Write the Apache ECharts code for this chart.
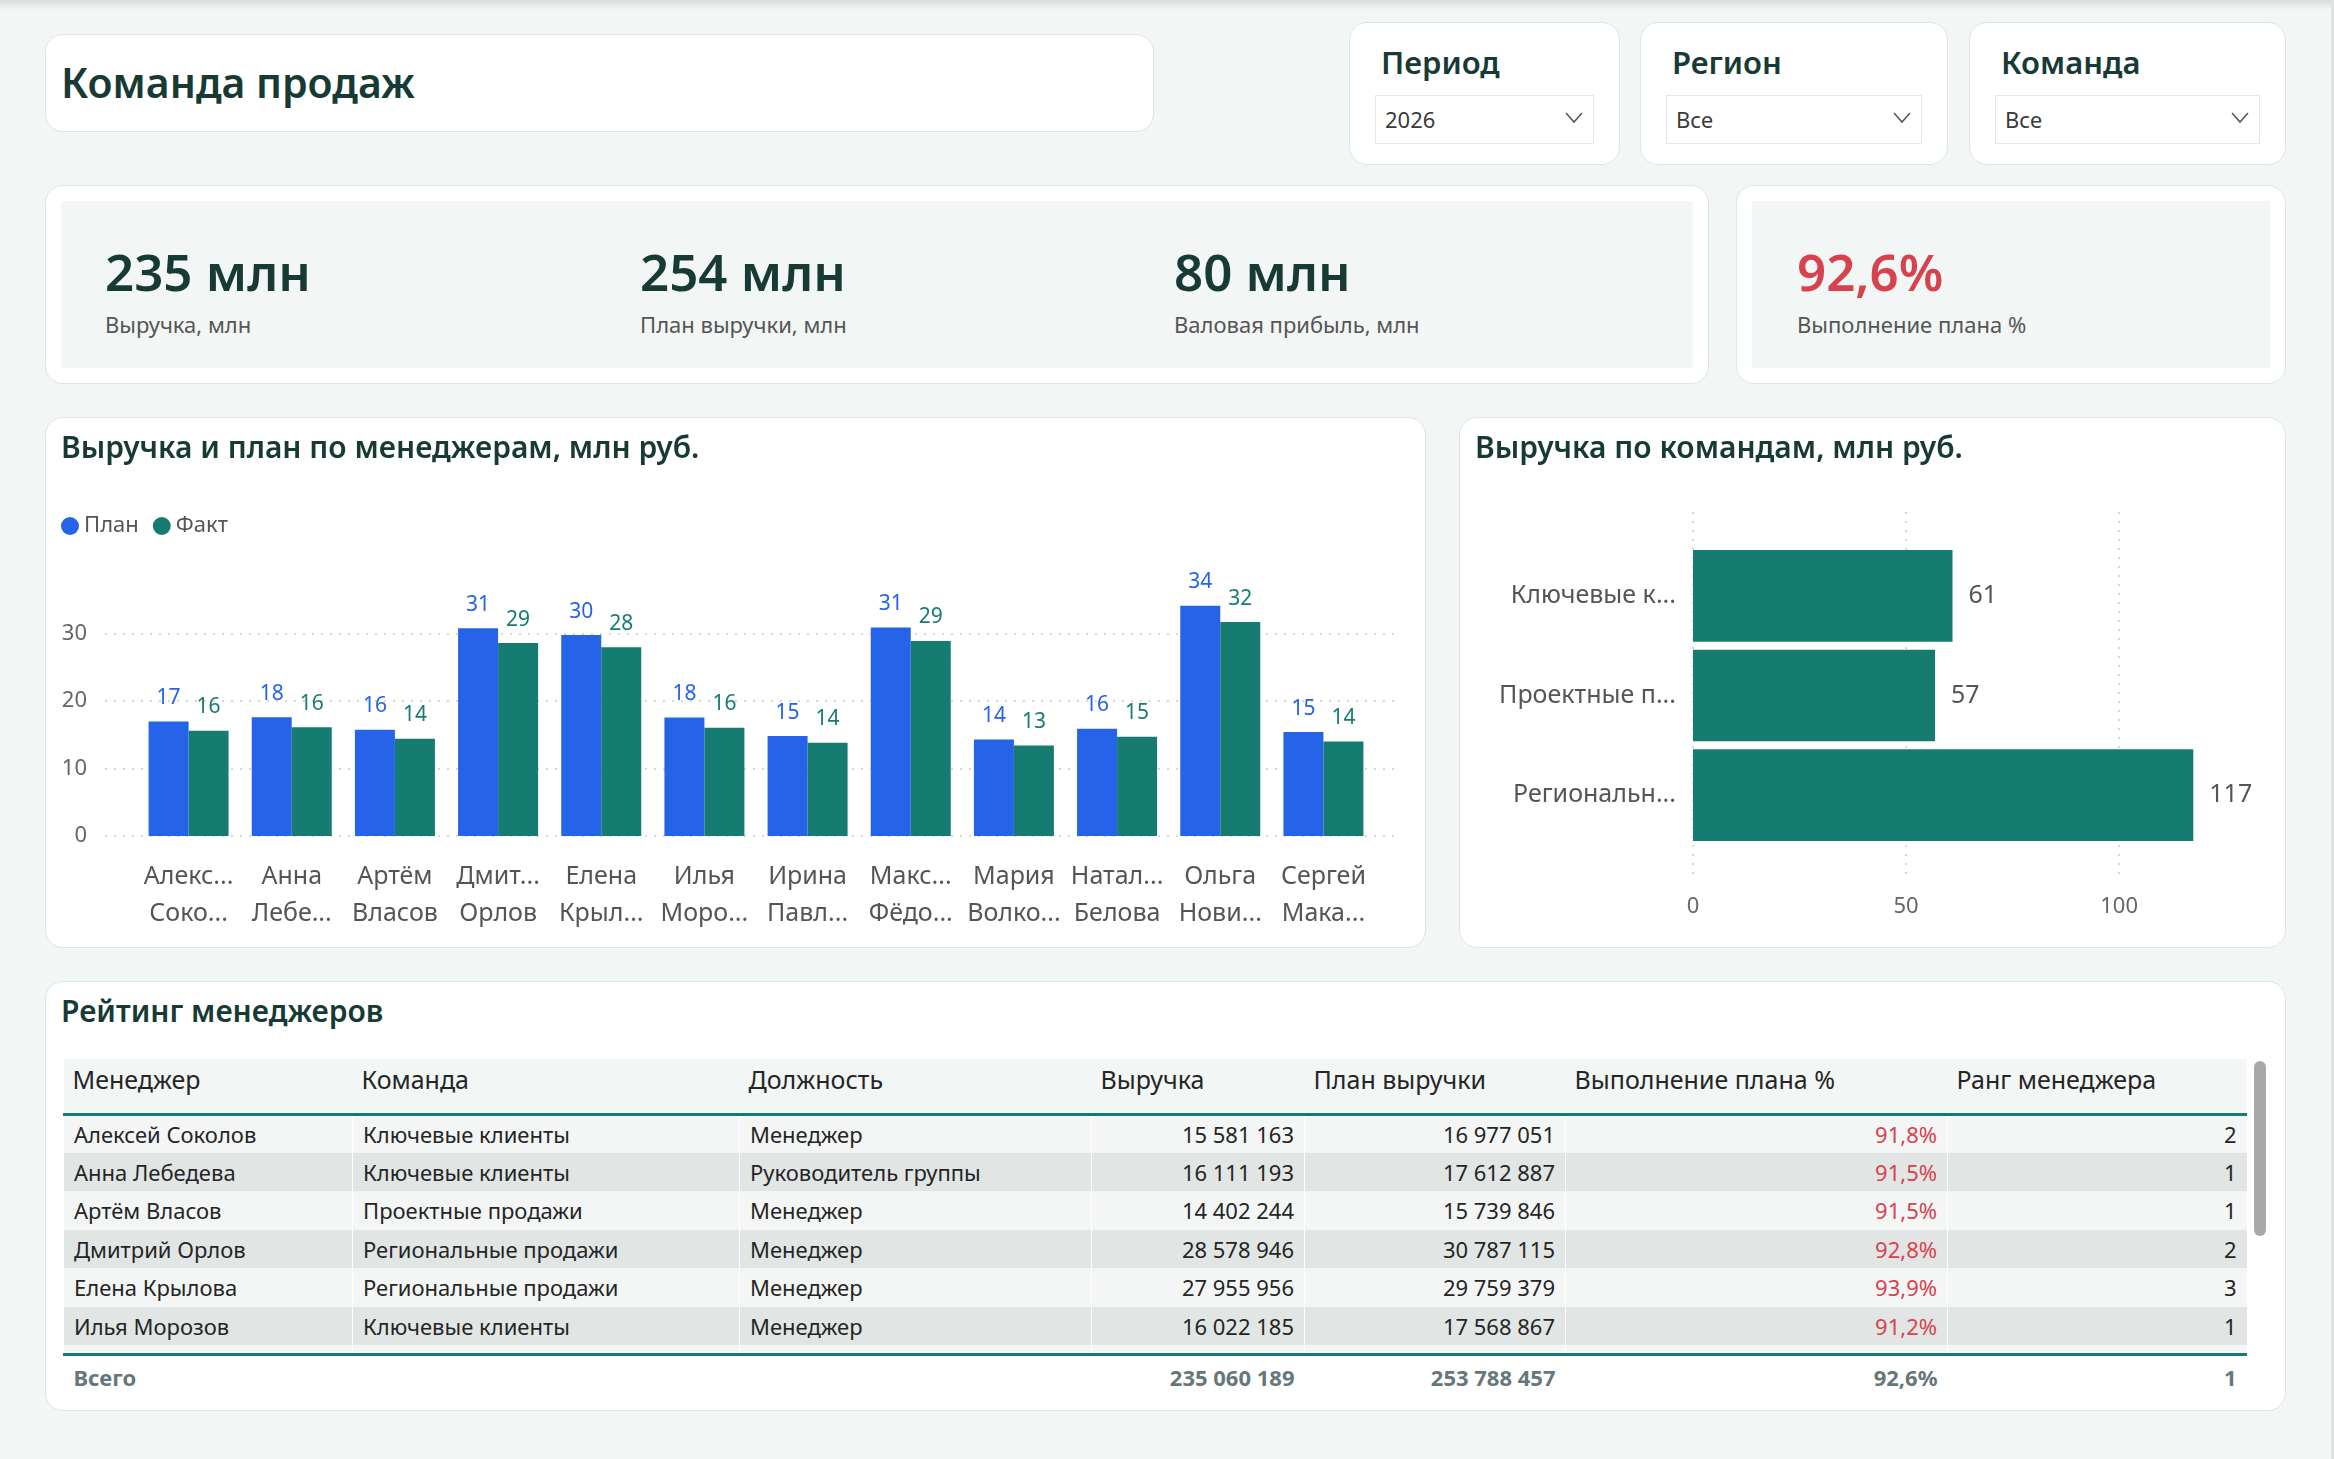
<!DOCTYPE html>
<html>
<head>
<meta charset="utf-8">
<title>Команда продаж</title>
<script src="https://cdn.jsdelivr.net/npm/echarts@6/dist/echarts.min.js"></script>
<style>
    html, body { margin: 0; padding: 0; }
    body {
        width: 2334px; height: 1459px; position: relative; overflow: hidden;
        background: #f2f6f5; font-family: 'Noto Sans', sans-serif; color: #173a35;
    }
    .topshade { position: absolute; left: 0; top: 0; width: 100%; height: 10px;
        background: linear-gradient(#d8dddc, rgba(242, 246, 245, 0)); }
    .rightedge { position: absolute; right: 0; top: 0; width: 3px; height: 100%; background: #dfe4e3; }
    .card { position: absolute; background: #fff; border: 1px solid #dce6e4; border-radius: 18px; box-sizing: border-box; }
    .page-title { position: absolute; left: 15px; top: 0; line-height: 94px; font-size: 41px; font-weight: 600; }
    .slicer-title { position: absolute; left: 31px; top: 17px; font-size: 31px; font-weight: 600; line-height: 44px; }
    .dropdown { position: absolute; left: 25px; right: 25px; top: 72px; height: 49px; border: 1px solid #e4e7e7;
        box-sizing: border-box; font-size: 22px; color: #3a3a3a; line-height: 47px; padding-left: 9px; }
    .dropdown svg { position: absolute; right: 10px; top: 16px; }
    .kpi-inner { position: absolute; left: 15px; top: 15px; right: 15px; bottom: 15px; background: #f2f6f5; }
    .kpi { position: absolute; top: 0; }
    .kpi-value { position: absolute; left: 0; top: 35px; font-size: 51px; font-weight: 600; line-height: 70px; white-space: nowrap; color: #173a35; }
    .kpi-label { position: absolute; left: 0; top: 108px; font-size: 22px; line-height: 30px; white-space: nowrap; color: #555; }
    .chart { position: absolute; left: 0; top: 0; width: 100%; height: 100%; }
    .tbl-title { position: absolute; left: 15px; top: 9px; font-size: 30px; font-weight: 600; line-height: 40px; }
    table { position: absolute; left: 17px; top: 77px; border-collapse: collapse; table-layout: fixed; width: 2183px; }
    th { height: 55px; background: #f2f6f5; font-size: 25px; font-weight: 400; color: #252525; text-align: left;
        padding: 0 0 13px 9px; border-bottom: 3px solid #177a70; white-space: nowrap; overflow: hidden; box-sizing: border-box; }
    td { height: 38.5px; padding: 0 10px; font-size: 22px; color: #252525; white-space: nowrap; overflow: hidden;
        border-left: 1px solid rgba(255, 255, 255, 0.55); box-sizing: border-box; }
    tr.odd td { background: #f3f6f5; }
    tr.even td { background: #e1e6e5; }
    tr.pad td { height: 9px; background: #f3f6f5; }
    tr.total td { border-top: 3px solid #177a70; height: 44px; background: #fff; font-weight: 700; color: #66777a; border-left: none; }
    td.num { text-align: right; }
    td.pct { text-align: right; color: #d8424d; }
    .scroll { position: absolute; left: 2208px; top: 79px; width: 12px; height: 175px; border-radius: 6px; background: #a9a9a9; }
</style>
</head>
<body>
<div class="topshade"></div>
<div class="rightedge"></div>

<div class="card" style="left:45px;top:34px;width:1109px;height:98px;">
    <div class="page-title">Команда продаж</div>
</div>

<div id="slicers"></div>

<div class="card" style="left:45px;top:185px;width:1664px;height:199px;">
    <div class="kpi-inner" id="kpi-main"></div>
</div>
<div class="card" style="left:1736px;top:185px;width:550px;height:199px;">
    <div class="kpi-inner" id="kpi-side"></div>
</div>

<div class="card" style="left:45px;top:417px;width:1381px;height:531px;">
    <div class="chart" id="echarts-managers"></div>
</div>
<div class="card" style="left:1459px;top:417px;width:827px;height:531px;">
    <div class="chart" id="echarts-teams"></div>
</div>

<div class="card" style="left:45px;top:981px;width:2241px;height:430px;">
    <div class="tbl-title">Рейтинг менеджеров</div>
    <table id="rating"></table>
    <div class="scroll"></div>
</div>

<script>
    // фильтры
    var slicerTitles = ['Период', 'Регион', 'Команда'];
    var slicerValues = ['2026', 'Все', 'Все'];

    // карточки KPI
    var kpiValues = ['235 млн', '254 млн', '80 млн'];
    var kpiLabels = ['Выручка, млн', 'План выручки, млн', 'Валовая прибыль, млн'];
    var planPctValue = '92,6%';
    var planPctLabel = 'Выполнение плана %';

    // выручка и план по менеджерам, млн руб.
    var managerNames = ['Алексей Соколов', 'Анна Лебедева', 'Артём Власов', 'Дмитрий Орлов', 'Елена Крылова', 'Илья Морозов',
        'Ирина Павлова', 'Максим Фёдоров', 'Мария Волкова', 'Наталья Белова', 'Ольга Новикова', 'Сергей Макаров'];
    var managerTickLabels = ['Алекс...\nСоко...', 'Анна\nЛебе...', 'Артём\nВласов', 'Дмит...\nОрлов', 'Елена\nКрыл...', 'Илья\nМоро...',
        'Ирина\nПавл...', 'Макс...\nФёдо...', 'Мария\nВолко...', 'Натал...\nБелова', 'Ольга\nНови...', 'Сергей\nМака...'];
    var planValues = [16.98, 17.61, 15.74, 30.79, 29.76, 17.57, 14.8, 30.9, 14.3, 15.9, 34.1, 15.4];
    var factValues = [15.58, 16.11, 14.40, 28.58, 27.96, 16.02, 13.8, 28.9, 13.4, 14.7, 31.7, 14.0];

    // выручка по командам, млн руб.
    var teamNames = ['Ключевые клиенты', 'Проектные продажи', 'Региональные продажи'];
    var teamTickLabels = ['Ключевые к...', 'Проектные п...', 'Региональн...'];
    var teamValues = [60.9, 56.8, 117.4];

    // рейтинг менеджеров
    var tblManagers = ['Алексей Соколов', 'Анна Лебедева', 'Артём Власов', 'Дмитрий Орлов', 'Елена Крылова', 'Илья Морозов'];
    var tblTeams = ['Ключевые клиенты', 'Ключевые клиенты', 'Проектные продажи', 'Региональные продажи', 'Региональные продажи', 'Ключевые клиенты'];
    var tblRoles = ['Менеджер', 'Руководитель группы', 'Менеджер', 'Менеджер', 'Менеджер', 'Менеджер'];
    var tblRevenue = [15581163, 16111193, 14402244, 28578946, 27955956, 16022185];
    var tblPlan = [16977051, 17612887, 15739846, 30787115, 29759379, 17568867];
    var tblPct = ['91,8%', '91,5%', '91,5%', '92,8%', '93,9%', '91,2%'];
    var tblRank = [2, 1, 1, 2, 3, 1];
    var tblTotal = ['Всего', '', '', 235060189, 253788457, '92,6%', 1];
    var tblHeaders = ['Менеджер', 'Команда', 'Должность', 'Выручка', 'План выручки', 'Выполнение плана %', 'Ранг менеджера'];
    var tblWidths = [289, 387, 352, 213, 261, 382, 299];

    var FONT = 'Noto Sans';
    var BLUE = '#2563e8';
    var TEAL = '#167c71';
    var GRID_LINE = { color: '#c9cccc', type: [2, 7], width: 1.5 };

    function fmt(n) {
        return String(n).replace(/\B(?=(\d{3})+(?!\d))/g, ' ');
    }

    /**
     * фильтры
     */
    var slicerBoxes = [[1349, 271], [1640, 308], [1969, 317]];
    var slicerHtml = '';
    for (var i = 0; i < slicerTitles.length; i++) {
        slicerHtml += '<div class="card" style="left:' + slicerBoxes[i][0] + 'px;top:22px;width:' + slicerBoxes[i][1] + 'px;height:143px;">' +
            '<div class="slicer-title">' + slicerTitles[i] + '</div>' +
            '<div class="dropdown">' + slicerValues[i] +
            '<svg width="18" height="12"><polyline points="1,1 9,10 17,1" fill="none" stroke="#555" stroke-width="1.5"/></svg></div></div>';
    }
    document.getElementById('slicers').innerHTML = slicerHtml;

    /**
     * KPI
     */
    var kpiX = [44, 579, 1113];
    var kpiHtml = '';
    for (var k = 0; k < kpiValues.length; k++) {
        kpiHtml += '<div class="kpi" style="left:' + kpiX[k] + 'px"><div class="kpi-value">' + kpiValues[k] +
            '</div><div class="kpi-label">' + kpiLabels[k] + '</div></div>';
    }
    document.getElementById('kpi-main').innerHTML = kpiHtml;
    document.getElementById('kpi-side').innerHTML = '<div class="kpi" style="left:45px"><div class="kpi-value" style="color:#d8424d">' +
        planPctValue + '</div><div class="kpi-label">' + planPctLabel + '</div></div>';

    /**
     * столбцы по менеджерам
     */
    var chartManagers = echarts.init(document.getElementById('echarts-managers'));
    chartManagers.setOption({
        animation: false,
        textStyle: { fontFamily: FONT },
        title: {
            text: 'Выручка и план по менеджерам, млн руб.',
            left: 10, top: 11,
            textStyle: { fontSize: 30, fontWeight: 600, color: '#173a35', fontFamily: FONT }
        },
        legend: {
            data: ['План', 'Факт'],
            left: 10, top: 92,
            icon: 'circle', itemWidth: 18, itemHeight: 18, itemGap: 14,
            textStyle: { fontSize: 22, color: '#555', fontFamily: FONT }
        },
        // grid 0: столбцы, grid 1: только линии сетки во всю ширину
        grid: [
            { left: 91, right: 50, top: 148, bottom: 111, containLabel: false, outerBoundsMode: 'none' },
            { left: 59, right: 27, top: 148, bottom: 111, containLabel: false, outerBoundsMode: 'none' }
        ],
        xAxis: [
            {
                type: 'category',
                gridIndex: 0,
                data: managerNames,
                axisLine: { show: false },
                axisTick: { show: false },
                axisLabel: {
                    interval: 0, margin: 22, fontSize: 25, lineHeight: 37, color: '#555', fontFamily: FONT,
                    formatter: function (value, index) { return managerTickLabels[index]; }
                }
            },
            { type: 'value', gridIndex: 1, min: 0, max: 1, show: false }
        ],
        yAxis: [
            {
                type: 'value', gridIndex: 0,
                min: 0, max: 40, interval: 10,
                axisLine: { show: false }, axisTick: { show: false },
                axisLabel: { show: false },
                splitLine: { show: false }
            },
            {
                type: 'value', gridIndex: 1,
                min: 0, max: 40, interval: 10,
                axisLine: { show: false }, axisTick: { show: false },
                axisLabel: { fontSize: 22, color: '#666', margin: 18, showMaxLabel: false, fontFamily: FONT },
                splitLine: { showMaxLine: false, lineStyle: GRID_LINE }
            }
        ],
        series: [
            {
                name: 'План', type: 'bar', data: planValues,
                xAxisIndex: 0, yAxisIndex: 0,
                barWidth: 40, barGap: '0%',
                itemStyle: { color: BLUE },
                label: {
                    show: true, position: 'top', distance: 13, fontSize: 21, color: BLUE, fontFamily: FONT,
                    formatter: function (p) { return Math.round(p.value); }
                }
            },
            {
                name: 'Факт', type: 'bar', data: factValues,
                xAxisIndex: 0, yAxisIndex: 0,
                barWidth: 40,
                itemStyle: { color: TEAL },
                label: {
                    show: true, position: 'top', distance: 13, fontSize: 21, color: TEAL, fontFamily: FONT,
                    formatter: function (p) { return Math.round(p.value); }
                }
            }
        ]
    });

    /**
     * выручка по командам
     */
    var chartTeams = echarts.init(document.getElementById('echarts-teams'));
    chartTeams.setOption({
        animation: false,
        textStyle: { fontFamily: FONT },
        title: {
            text: 'Выручка по командам, млн руб.',
            left: 10, top: 11,
            textStyle: { fontSize: 30, fontWeight: 600, color: '#173a35', fontFamily: FONT }
        },
        // grid 0: полосы, grid 1: вертикальные линии сетки выше и ниже полос
        grid: [
            { left: 233, right: 38, top: 128, bottom: 102, containLabel: false, outerBoundsMode: 'none' },
            { left: 233, right: 38, top: 94, bottom: 67, containLabel: false, outerBoundsMode: 'none' }
        ],
        xAxis: [
            {
                type: 'value', gridIndex: 0,
                min: 0, max: 130, interval: 50,
                axisLine: { show: false }, axisTick: { show: false },
                axisLabel: { show: false },
                splitLine: { show: false }
            },
            {
                type: 'value', gridIndex: 1,
                min: 0, max: 130, interval: 50,
                axisLine: { show: false }, axisTick: { show: false },
                axisLabel: { fontSize: 22, color: '#666', margin: 16, showMaxLabel: false, fontFamily: FONT },
                splitLine: { showMaxLine: false, lineStyle: GRID_LINE }
            }
        ],
        yAxis: [
            {
                type: 'category', gridIndex: 0,
                data: teamNames,
                inverse: true,
                axisLine: { show: false },
                axisTick: { show: false },
                axisLabel: {
                    fontSize: 25, color: '#555', margin: 17, fontFamily: FONT,
                    formatter: function (value, index) { return teamTickLabels[index]; }
                }
            },
            { type: 'value', gridIndex: 1, min: 0, max: 1, show: false }
        ],
        series: [{
            type: 'bar', data: teamValues,
            xAxisIndex: 0, yAxisIndex: 0,
            barCategoryGap: '8%',
            itemStyle: { color: TEAL },
            z: 3,
            label: {
                show: true, position: 'right', distance: 16, fontSize: 25, color: '#555', fontFamily: FONT,
                formatter: function (p) { return Math.round(p.value); }
            }
        }]
    });

    /**
     * таблица рейтинга
     */
    var html = '<colgroup>';
    tblWidths.forEach(function (w) { html += '<col style="width:' + w + 'px">'; });
    html += '</colgroup><tr>';
    tblHeaders.forEach(function (h) { html += '<th>' + h + '</th>'; });
    html += '</tr>';
    for (var r = 0; r < tblManagers.length; r++) {
        html += '<tr class="' + (r % 2 === 0 ? 'odd' : 'even') + '">' +
            '<td>' + tblManagers[r] + '</td>' +
            '<td>' + tblTeams[r] + '</td>' +
            '<td>' + tblRoles[r] + '</td>' +
            '<td class="num">' + fmt(tblRevenue[r]) + '</td>' +
            '<td class="num">' + fmt(tblPlan[r]) + '</td>' +
            '<td class="pct">' + tblPct[r] + '</td>' +
            '<td class="num">' + tblRank[r] + '</td></tr>';
    }
    html += '<tr class="pad"><td></td><td></td><td></td><td></td><td></td><td></td><td></td></tr>';
    html += '<tr class="total">' +
        '<td>' + tblTotal[0] + '</td><td></td><td></td>' +
        '<td class="num">' + fmt(tblTotal[3]) + '</td>' +
        '<td class="num">' + fmt(tblTotal[4]) + '</td>' +
        '<td class="num">' + tblTotal[5] + '</td>' +
        '<td class="num">' + tblTotal[6] + '</td></tr>';
    document.getElementById('rating').innerHTML = html;

    window.onresize = function () {
        chartManagers.resize();
        chartTeams.resize();
    };
</script>
</body>
</html>
